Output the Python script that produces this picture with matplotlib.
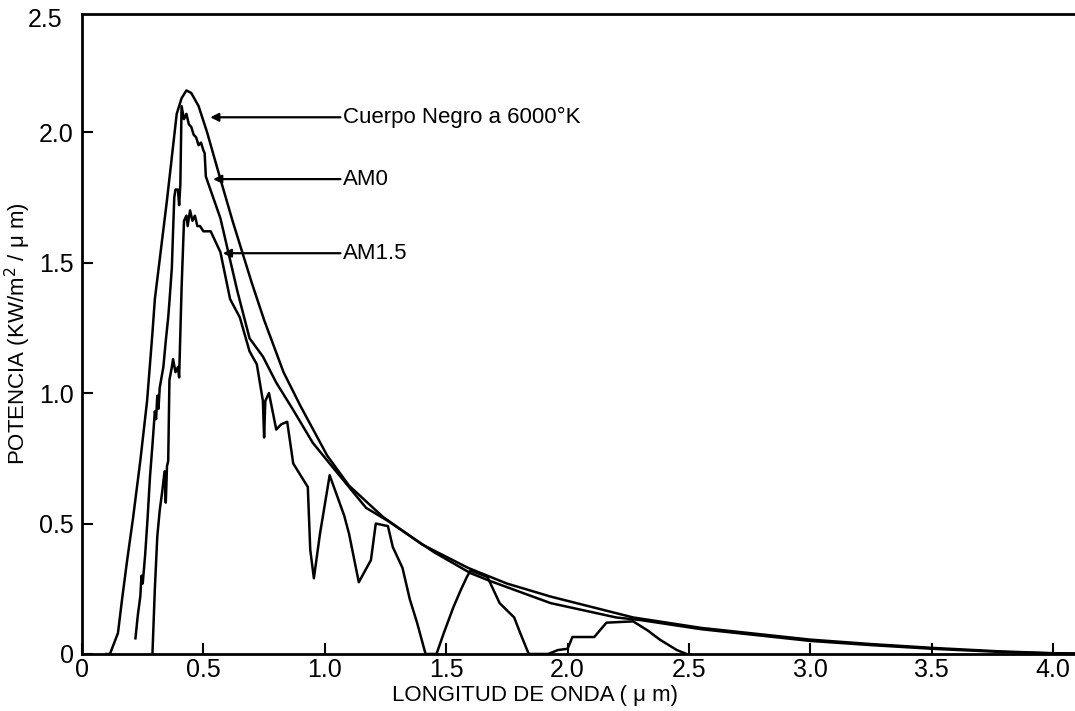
import matplotlib.pyplot as plt

# Spectral irradiance curves (um, kW/m2/um)
bb_x = [0.10, 0.115, 0.148, 0.165, 0.186, 0.21, 0.24, 0.268, 0.29, 0.30, 0.35, 0.39, 0.41,
        0.43, 0.45, 0.48, 0.515, 0.57, 0.62, 0.66, 0.70, 0.75, 0.83, 0.90, 1.01, 1.10, 1.24,
        1.40, 1.59, 1.75, 1.93, 2.10, 2.27, 2.55, 2.80, 3.00, 3.25, 3.51, 3.78, 4.00, 4.10]
bb_y = [0, 0, 0.08, 0.21, 0.36, 0.52, 0.74, 0.97, 1.23, 1.36, 1.74, 2.07, 2.13,
        2.16, 2.15, 2.10, 2.00, 1.82, 1.66, 1.54, 1.42, 1.28, 1.08, 0.95, 0.76, 0.645, 0.525,
        0.42, 0.33, 0.27, 0.22, 0.18, 0.14, 0.10, 0.075, 0.055, 0.038, 0.023, 0.01, 0.003, 0.002]

am0_x = [0.22, 0.23, 0.24, 0.245, 0.25, 0.26, 0.27, 0.28, 0.29, 0.30, 0.305, 0.31, 0.315, 0.32,
         0.335, 0.345, 0.355, 0.36, 0.37, 0.375, 0.38, 0.385, 0.395, 0.40, 0.405, 0.41, 0.42,
         0.43, 0.44, 0.45, 0.46, 0.47, 0.48, 0.49, 0.50, 0.505, 0.51, 0.57, 0.60, 0.64, 0.69,
         0.745, 0.80, 0.87, 0.95, 1.02, 1.17, 1.26, 1.45, 1.60, 1.68, 1.93, 2.2, 2.3, 2.55,
         2.8, 3.0, 3.25, 3.5, 3.78, 4.0, 4.1]
am0_y = [0.06, 0.15, 0.22, 0.30, 0.27, 0.38, 0.52, 0.68, 0.80, 0.93, 0.90, 0.99, 0.94, 1.02,
         1.10, 1.20, 1.29, 1.35, 1.48, 1.62, 1.75, 1.78, 1.78, 1.72, 1.80, 2.10, 2.05,
         2.07, 2.03, 2.02, 1.99, 1.98, 1.95, 1.96, 1.93, 1.92, 1.83, 1.67, 1.55, 1.39, 1.21,
         1.14, 1.04, 0.935, 0.81, 0.73, 0.56, 0.51, 0.39, 0.31, 0.28, 0.195, 0.14, 0.13, 0.095,
         0.07, 0.05, 0.034, 0.02, 0.008, 0.002, 0.001]

am15_x = [0.29, 0.30, 0.31, 0.32, 0.33, 0.34, 0.345, 0.35, 0.355, 0.36, 0.37, 0.375, 0.385,
          0.395, 0.40, 0.41, 0.42, 0.43, 0.435, 0.445, 0.455, 0.465, 0.475, 0.486, 0.50, 0.53,
          0.57, 0.61, 0.65, 0.69, 0.72, 0.745, 0.75, 0.755, 0.77, 0.80, 0.82, 0.845, 0.87,
          0.93, 0.94, 0.955, 0.98, 1.02, 1.08, 1.10, 1.14, 1.19, 1.21, 1.26, 1.28, 1.32, 1.35,
          1.38, 1.415, 1.46, 1.49, 1.53, 1.56, 1.585, 1.60, 1.67, 1.72, 1.78, 1.805, 1.84,
          1.92, 1.96, 2.0, 2.02, 2.11, 2.16, 2.27, 2.33, 2.38, 2.45, 2.49]
am15_y = [0.0, 0.25, 0.45, 0.55, 0.62, 0.70, 0.58, 0.72, 0.74, 1.05, 1.10, 1.13, 1.08,
          1.10, 1.06, 1.40, 1.66, 1.68, 1.64, 1.70, 1.66, 1.68, 1.64, 1.64, 1.62, 1.62,
          1.54, 1.36, 1.29, 1.16, 1.11, 0.97, 0.83, 0.97, 1.0, 0.86, 0.88, 0.89, 0.73,
          0.64, 0.40, 0.29, 0.46, 0.685, 0.53, 0.46, 0.275, 0.36, 0.50, 0.49, 0.41, 0.33, 0.21,
          0.12, 0.0, 0.0, 0.08, 0.18, 0.245, 0.295, 0.32, 0.295, 0.195, 0.14, 0.08, 0.0,
          0.0, 0.015, 0.02, 0.065, 0.065, 0.12, 0.125, 0.09, 0.055, 0.015, 0.0]

labels = ['Cuerpo Negro a 6000°K', 'AM0', 'AM1.5']
arrow_tips = [(0.528, 2.057), (0.54, 1.82), (0.58, 1.536)]

xticks = [0, 0.5, 1.0, 1.5, 2.0, 2.5, 3.0, 3.5, 4.0]
xtick_labels = ['0', '0.5', '1.0', '1.5', '2.0', '2.5', '3.0', '3.5', '4.0']
yticks = [0, 0.5, 1.0, 1.5, 2.0]
ytick_labels = ['0', '0.5', '1.0', '1.5', '2.0']

plt.rcParams['font.family'] = ['Liberation Sans', 'DejaVu Sans']

fig = plt.figure(figsize=(10.75, 7.11), dpi=100)
ax = fig.add_axes([0.0763, 0.0802, 0.9237, 0.8998])

for xs, ys in [(bb_x, bb_y), (am0_x, am0_y), (am15_x, am15_y)]:
    ax.plot(xs, ys, color='black', lw=1.8)

for text, tip in zip(labels, arrow_tips):
    ax.annotate(text, xy=tip, xytext=(1.076, tip[1]), fontsize=16, va='center', ha='left',
                arrowprops=dict(arrowstyle='-|>', color='black', lw=1.6, mutation_scale=12,
                                shrinkA=0, shrinkB=0))

ax.set_xlim(0, 4.09)
ax.set_ylim(0, 2.452)
ax.set_xticks(xticks)
ax.set_xticklabels(xtick_labels)
ax.set_yticks(yticks)
ax.set_yticklabels(ytick_labels)
ax.text(-0.02, 2.43, '2.5', transform=ax.get_yaxis_transform(), ha='right', va='center', fontsize=18)
ax.tick_params(direction='in', length=8, width=1.5, labelsize=18)
ax.tick_params(axis='x', pad=3)
ax.tick_params(axis='y', pad=6)
ax.spines['right'].set_visible(False)
for s in ['left', 'bottom', 'top']:
    ax.spines[s].set_linewidth(2)

ax.set_xlabel('LONGITUD DE ONDA ( μ m)', fontsize=16)
ax.xaxis.set_label_coords(0.456, -0.048)
ax.set_ylabel('POTENCIA (KW/m$^2$ / μ m)', fontsize=16, labelpad=4)

fig.savefig('out.png', dpi=100)
